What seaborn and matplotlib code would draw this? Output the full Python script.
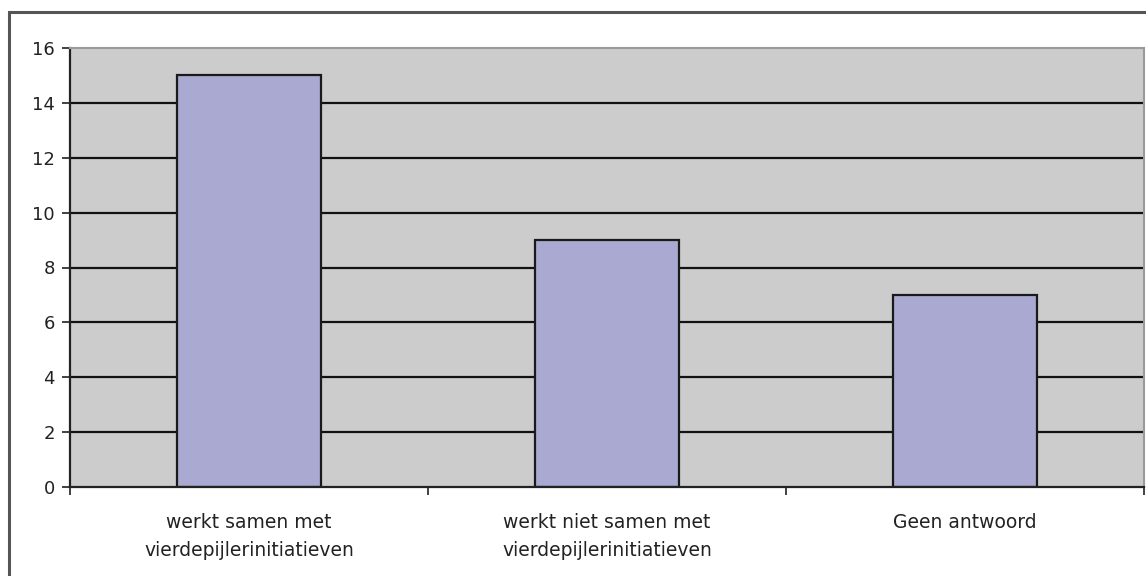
import matplotlib
matplotlib.use("Agg")
import matplotlib.pyplot as plt
import seaborn as sns
import pandas as pd
from matplotlib.patches import Rectangle

categories = ["werkt samen met\nvierdepijlerinitiatieven",
              "werkt niet samen met\nvierdepijlerinitiatieven",
              "Geen antwoord"]
values = [15, 9, 7]
yticks = [0, 2, 4, 6, 8, 10, 12, 14, 16]

sns.set_theme(style="white")
plt.rcParams['font.family'] = ['DejaVu Sans']

df = pd.DataFrame({"cat": categories, "val": values})

fig = plt.figure(figsize=(11.46, 5.76), dpi=100)
ax = fig.add_axes([70/1146, 1-487/576, (1144-70)/1146, (487-48)/576])
ax.set_facecolor("#cccccc")

for y in yticks[1:-1]:
    ax.axhline(y, color="#111111", lw=1.6, zorder=1)

sns.barplot(data=df, x="cat", y="val", color="#a9a9d1", width=0.4,
            edgecolor="#1a1a1a", linewidth=1.6, saturation=1, ax=ax, zorder=2)

ax.set_xlim(-0.5, 2.5)
ax.set_ylim(0, 16)
ax.set_yticks(yticks)
ax.set_yticklabels([str(v) for v in yticks], fontsize=13)
ax.set_xlabel("")
ax.set_ylabel("")

ax.set_xticks(range(len(categories)))
ax.set_xticklabels(categories, fontsize=13.5, color="#222222", linespacing=1.55)
ax.set_xticks([-0.5, 0.5, 1.5, 2.5], minor=True)
ax.tick_params(axis="x", which="both", bottom=True)
ax.tick_params(axis="y", which="both", left=True)
ax.tick_params(axis="x", which="major", length=0, pad=19)
ax.tick_params(axis="x", which="minor", length=6, width=1.3, color="#333333", direction="out")
ax.tick_params(axis="y", length=6, width=1.3, color="#333333", direction="out", pad=5, labelcolor="#222222")

for s in ["left", "bottom"]:
    ax.spines[s].set_color("#222222")
    ax.spines[s].set_linewidth(1.6)
for s in ["top", "right"]:
    ax.spines[s].set_color("#9a9a9a")
    ax.spines[s].set_linewidth(1.5)

# outer chart frame
fig.patches.append(Rectangle((9/1146, -0.05), 1.2, 1 - 12/576 + 0.05,
                             transform=fig.transFigure, fill=False,
                             edgecolor="#555555", lw=2.2))

fig.savefig("out.png", dpi=100, facecolor="white")
